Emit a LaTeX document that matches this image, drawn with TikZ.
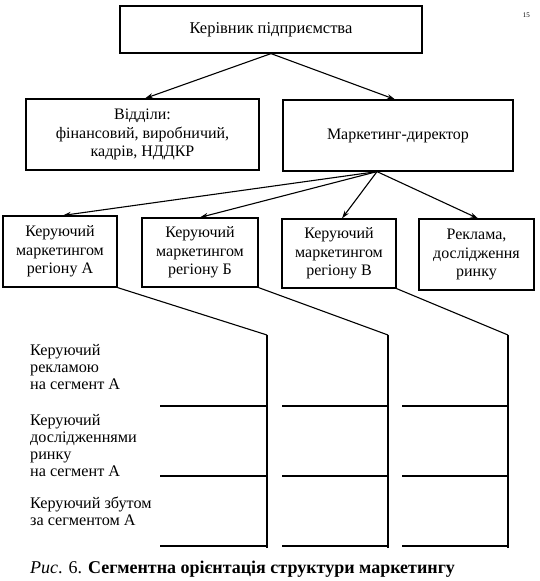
\documentclass[tikz,border=0pt]{standalone}
\usepackage{fontspec}
\setmainfont{Liberation Serif}
\usetikzlibrary{arrows.meta}
\begin{document}
\begin{tikzpicture}[x=1pt,y=-1pt,
  box/.style={draw,line width=1.2pt,align=center,inner sep=0pt,
    font=\fontsize{16}{18.5}\selectfont},
  arr/.style={line width=1.1pt,-{Stealth[length=8pt,width=5pt]}},
  slant/.style={line width=1.1pt},
  seg/.style={line width=2.4pt},
  lbl/.style={align=left,anchor=north west,inner sep=0pt,
    font=\fontsize{16.2}{17}\selectfont}]
\useasboundingbox (0,0) rectangle (539,581);
% top level
\node[box,minimum width=302pt,minimum height=47pt,font=\fontsize{16.5}{18.5}\selectfont] (top) at (271,29.5) {Керівник підприємства};
\node[box,minimum width=233pt,minimum height=71pt] (dep) at (142.5,134.5) {Відділи:\\фінансовий, виробничий,\\кадрів, НДДКР};
\node[box,minimum width=230pt,minimum height=71pt] (mkt) at (398,135.5) {Маркетинг-директор};
% regional level
\node[box,minimum width=114pt,minimum height=71pt] (b1) at (60,251.5) {Керуючий\\маркетингом\\регіону А};
\node[box,minimum width=116pt,minimum height=69pt] (b2) at (200,252.5) {Керуючий\\маркетингом\\регіону Б};
\node[box,minimum width=114pt,minimum height=69pt] (b3) at (339,253.5) {Керуючий\\маркетингом\\регіону В};
\node[box,minimum width=115pt,minimum height=71pt] (b4) at (476.5,254.5) {Реклама,\\дослідження\\ринку};
% arrows
\draw[arr] (top.south) -- ([xshift=2.5pt]dep.north);
\draw[arr] (top.south) -- ([xshift=-3pt]mkt.north);
\coordinate (m) at ([xshift=-21pt]mkt.south);
\draw[arr] (m) -- ([xshift=3pt]b1.north);
\draw[arr] (m) -- (b2.north);
\draw[arr] (m) -- ([xshift=3pt]b3.north);
\draw[arr] (m) -- ([xshift=1.5pt]b4.north);
% segment structure
\coordinate (v1) at (267,335);
\coordinate (v2) at (388,335);
\coordinate (v3) at (508,335);
\draw[slant] (b1.south east) -- (v1);
\draw[slant] (b2.south east) -- (v2);
\draw[slant] (b3.south east) -- (v3);
\draw[seg] (v1) -- (267,547.5);
\draw[seg] (v2) -- (388,547.5);
\draw[seg] (v3) -- (508,547.5);
\foreach \y in {406,476,546}{
  \draw[seg] (160,\y) -- (267,\y);
  \draw[seg] (282,\y) -- (388,\y);
  \draw[seg] (402,\y) -- (508,\y);
}
% left labels
\node[lbl] (l1) at (30,344.5) {Керуючий\\рекламою\\на сегмент А};
\node[lbl] (l2) at (30,414.5) {Керуючий\\дослідженнями\\ринку\\на сегмент А};
\node[lbl] (l3) at (30,497) {Керуючий збутом\\за сегментом А};
% caption
\node[anchor=base west,inner sep=0pt,font=\fontsize{18}{19}\selectfont] (cap) at (30,573)
  {\textit{Рис}. 6. \textbf{Сегментна орієнтація структури маркетингу}};
\node[anchor=base east,inner sep=0pt,font=\fontsize{7}{8}\selectfont] (pg) at (530,17) {15};
\end{tikzpicture}
\end{document}
